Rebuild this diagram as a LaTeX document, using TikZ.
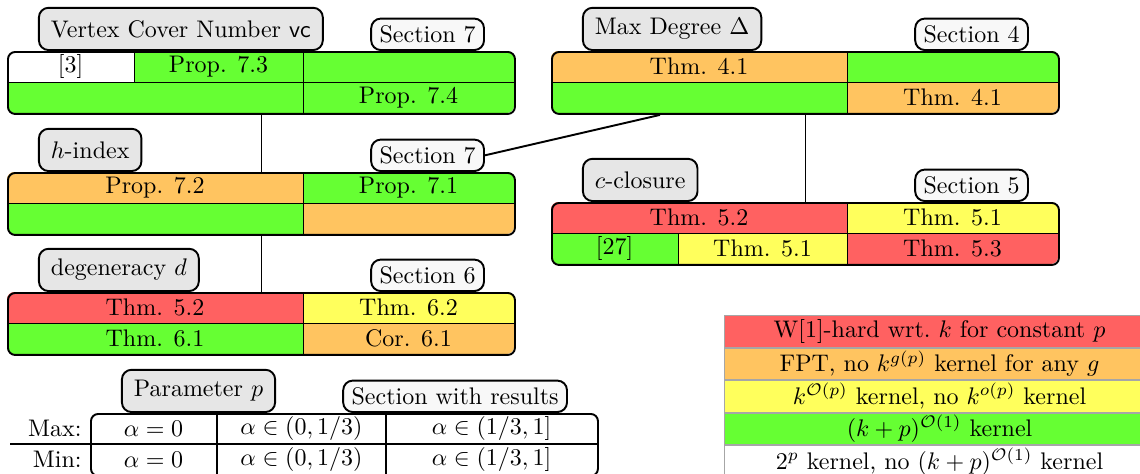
\documentclass[tikz,border=0pt]{standalone}
\usepackage{amsmath}
\usepackage{amssymb}
\usetikzlibrary{positioning}
\definecolor{cred}{RGB}{255,97,97}
\definecolor{corange}{RGB}{255,196,96}
\definecolor{cyellow}{RGB}{255,255,92}
\definecolor{cgreen}{RGB}{102,255,51}
\definecolor{ctag}{RGB}{230,230,230}
\definecolor{csec}{RGB}{248,248,248}
\tikzset{
  blockframe/.style={draw, line width=0.8pt, rounded corners=3pt, inner sep=0pt,
    minimum width=211.25pt, minimum height=25.83pt},
  cellline/.style={line width=0.4pt},
  paramtag/.style={draw, line width=0.8pt, fill=ctag, rounded corners=4pt,
    inner xsep=5pt, inner ysep=0pt, minimum height=17.6pt},
  sectag/.style={draw, line width=0.8pt, fill=csec, rounded corners=4pt,
    inner xsep=3.5pt, inner ysep=0pt, minimum height=13.1pt},
  link/.style={line width=0.8pt},
  legendrow/.style={draw=gray!70, line width=0.4pt, inner sep=0pt,
    minimum width=179.2pt, minimum height=13.15pt}
}

\begin{document}
\begin{tikzpicture}[x=0.41667pt, y=-0.41667pt]
\newcommand{\bw}{507}
\newcommand{\bh}{62}
\newcommand{\rh}{31}
\newcommand{\ca}{127}
\newcommand{\cb}{296}
\newcommand{\tagsep}{12.9pt}
\path [use as bounding box, clip] (0,0) rectangle (1140,473);

\begin{scope}[shift={(7,51)}]
\begin{scope}
\clip [rounded corners=3pt] (0,0) rectangle (\bw,\bh);
\fill [white] (0,0) rectangle (\ca,\rh);
\fill [cgreen] (\ca,0) rectangle (\bw,\rh);
\fill [cgreen] (0,\rh) rectangle (\bw,\bh);
\end{scope}
\draw [cellline] (0,\rh) -- (\bw,\rh) (\ca,0) -- (\ca,\rh) (\cb,0) -- (\cb,\bh);
\node [blockframe, anchor=north west] (vc) at (0,0) {};
\node (vc-a) at (63.5,15.5) {[3]};
\node (vc-b) at (211.5,15.5) {Prop. 7.3};
\node (vc-d) at (401.5,46.5) {Prop. 7.4};
\end{scope}

\begin{scope}[shift={(7,172)}]
\begin{scope}
\clip [rounded corners=3pt] (0,0) rectangle (\bw,\bh);
\fill [corange] (0,0) rectangle (\cb,\rh);
\fill [cgreen] (\cb,0) rectangle (\bw,\rh);
\fill [cgreen] (0,\rh) rectangle (\cb,\bh);
\fill [corange] (\cb,\rh) rectangle (\bw,\bh);
\end{scope}
\draw [cellline] (0,\rh) -- (\bw,\rh) (\cb,0) -- (\cb,\bh);
\node [blockframe, anchor=north west] (hidx) at (0,0) {};
\node (hidx-a) at (148,15.5) {Prop. 7.2};
\node (hidx-b) at (401.5,15.5) {Prop. 7.1};
\end{scope}

\begin{scope}[shift={(7,292)}]
\begin{scope}
\clip [rounded corners=3pt] (0,0) rectangle (\bw,\bh);
\fill [cred] (0,0) rectangle (\cb,\rh);
\fill [cyellow] (\cb,0) rectangle (\bw,\rh);
\fill [cgreen] (0,\rh) rectangle (\cb,\bh);
\fill [corange] (\cb,\rh) rectangle (\bw,\bh);
\end{scope}
\draw [cellline] (0,\rh) -- (\bw,\rh) (\cb,0) -- (\cb,\bh);
\node [blockframe, anchor=north west] (degen) at (0,0) {};
\node (degen-a) at (148,15.5) {Thm. 5.2};
\node (degen-b) at (401.5,15.5) {Thm. 6.2};
\node (degen-c) at (148,46.5) {Thm. 6.1};
\node (degen-d) at (401.5,46.5) {Cor. 6.1};
\end{scope}

\begin{scope}[shift={(551,51)}]
\begin{scope}
\clip [rounded corners=3pt] (0,0) rectangle (\bw,\bh);
\fill [corange] (0,0) rectangle (\cb,\rh);
\fill [cgreen] (\cb,0) rectangle (\bw,\rh);
\fill [cgreen] (0,\rh) rectangle (\cb,\bh);
\fill [corange] (\cb,\rh) rectangle (\bw,\bh);
\end{scope}
\draw [cellline] (0,\rh) -- (\bw,\rh) (\cb,0) -- (\cb,\bh);
\node [blockframe, anchor=north west] (maxdeg) at (0,0) {};
\node (maxdeg-a) at (148,15.5) {Thm. 4.1};
\node (maxdeg-d) at (401.5,46.5) {Thm. 4.1};
\end{scope}

\begin{scope}[shift={(551,202)}]
\begin{scope}
\clip [rounded corners=3pt] (0,0) rectangle (\bw,\bh);
\fill [cred] (0,0) rectangle (\cb,\rh);
\fill [cyellow] (\cb,0) rectangle (\bw,\rh);
\fill [cgreen] (0,\rh) rectangle (\ca,\bh);
\fill [cyellow] (\ca,\rh) rectangle (\cb,\bh);
\fill [cred] (\cb,\rh) rectangle (\bw,\bh);
\end{scope}
\draw [cellline] (0,\rh) -- (\bw,\rh) (\ca,\rh) -- (\ca,\bh) (\cb,0) -- (\cb,\bh);
\node [blockframe, anchor=north west] (cclos) at (0,0) {};
\node (cclos-a) at (148,15.5) {Thm. 5.2};
\node (cclos-b) at (401.5,15.5) {Thm. 5.1};
\node (cclos-c) at (63.5,46.5) {[27]};
\node (cclos-d) at (211.5,46.5) {Thm. 5.1};
\node (cclos-e) at (401.5,46.5) {Thm. 5.3};
\end{scope}

\node [paramtag, anchor=south west] (vctag) at ([xshift=\tagsep]vc.north west) {Vertex Cover Number \textsf{vc}};
\node [sectag, anchor=south east] (vcsec) at ([xshift=-\tagsep]vc.north east) {Section 7};
\node [paramtag, anchor=south west] (hidxtag) at ([xshift=\tagsep]hidx.north west) {$h$-index};
\node [sectag, anchor=south east] (hidxsec) at ([xshift=-\tagsep]hidx.north east) {Section 7};
\node [paramtag, anchor=south west] (degentag) at ([xshift=\tagsep]degen.north west) {degeneracy $d$};
\node [sectag, anchor=south east] (degensec) at ([xshift=-\tagsep]degen.north east) {Section 6};
\node [paramtag, anchor=south west] (maxdegtag) at ([xshift=\tagsep]maxdeg.north west) {Max Degree $\Delta$};
\node [sectag, anchor=south east] (maxdegsec) at ([xshift=-\tagsep]maxdeg.north east) {Section 4};
\node [paramtag, anchor=south west] (cclostag) at ([xshift=\tagsep]cclos.north west) {$c$-closure};
\node [sectag, anchor=south east] (cclossec) at ([xshift=-\tagsep]cclos.north east) {Section 5};

\draw [link] (vc.south) -- (hidx.north);
\draw [link] (hidx.south) -- (degen.north);
\draw [link] (maxdeg.south) -- (cclos.north);
\draw [link] ([xshift=45.4pt]maxdeg.south west) -- (hidxsec.east);

\begin{scope}[shift={(90,413)}]
\node [blockframe, anchor=north west] (par) at (0,0) {};
\draw [line width=0.8pt] (\ca,0) -- (\ca,\bh) (\cb,0) -- (\cb,\bh);
\node (par-a) at (63.5,15.5) {$\alpha = 0$};
\node (par-b) at (211.5,15.5) {$\alpha \in (0,1/3)$};
\node (par-c) at (401.5,15.5) {$\alpha \in (1/3,1]$};
\node (par-d) at (63.5,46.5) {$\alpha = 0$};
\node (par-e) at (211.5,46.5) {$\alpha \in (0,1/3)$};
\node (par-f) at (401.5,46.5) {$\alpha \in (1/3,1]$};
\end{scope}
\node [paramtag, anchor=south west] (partag) at ([xshift=\tagsep]par.north west) {Parameter $p$};
\node [sectag, anchor=south east] (parsec) at ([xshift=-\tagsep]par.north east) {Section with results};
\node [anchor=east] (maxlbl) at (par.west |- par-a) {Max:};
\node [anchor=east] (minlbl) at (par.west |- par-d) {Min:};
\coordinate (rulestart) at (10,444);
\draw [line width=1.1pt] (rulestart) -- (rulestart -| par.east);

\node [legendrow, fill=cred, anchor=north west] (lg1) at (724,315) {W[1]-hard wrt.\ $k$ for constant $p$};
\node [legendrow, fill=corange, below=0pt of lg1] (lg2) {FPT, no $k^{g(p)}$ kernel for any $g$};
\node [legendrow, fill=cyellow, below=0pt of lg2] (lg3) {$k^{\mathcal{O}(p)}$ kernel, no $k^{o(p)}$ kernel};
\node [legendrow, fill=cgreen, below=0pt of lg3] (lg4) {$(k+p)^{\mathcal{O}(1)}$ kernel};
\node [legendrow, fill=white, below=0pt of lg4] (lg5) {$2^p$ kernel, no $(k+p)^{\mathcal{O}(1)}$ kernel};
\end{tikzpicture}
\end{document}
